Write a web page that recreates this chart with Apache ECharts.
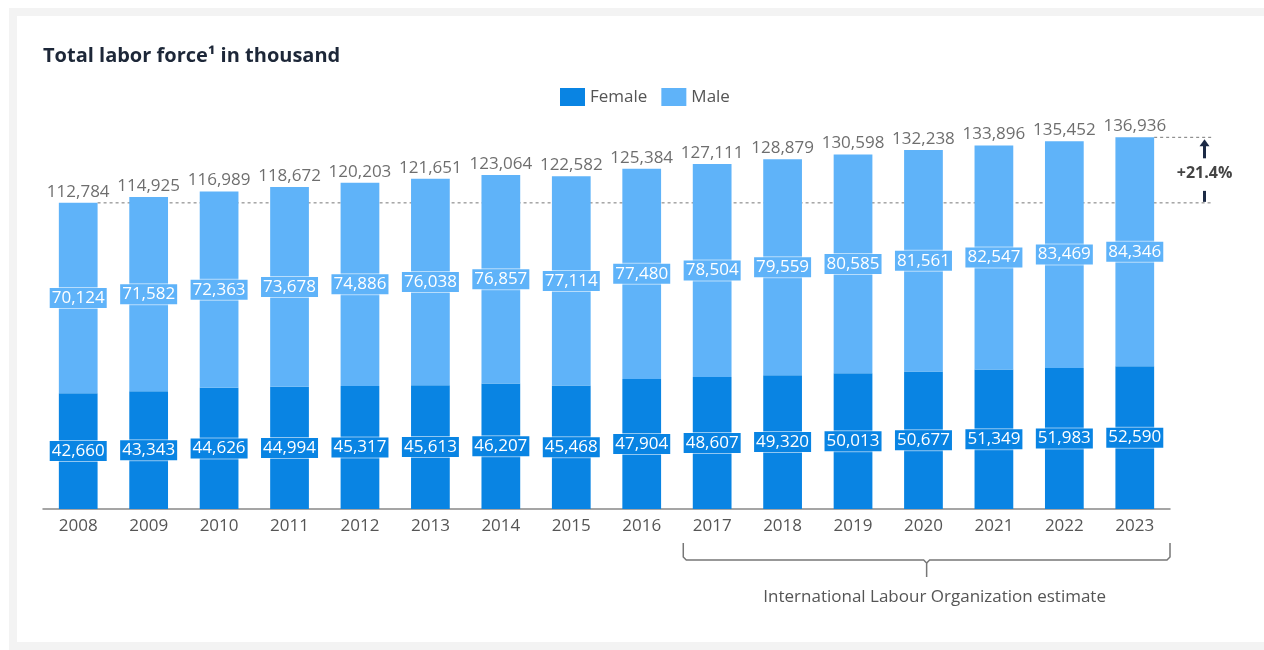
<!DOCTYPE html>
<html>
<head>
<meta charset="utf-8">
<script src="https://cdn.jsdelivr.net/npm/echarts@6/dist/echarts.min.js"></script>
<style>
  html, body { margin: 0; padding: 0; background: #fff; }
  .frame { position: absolute; left: 9px; top: 8px; width: 1400px; height: 642px; border: 8px solid #f3f3f3; box-sizing: border-box; }
  #main { position: absolute; left: 0; top: 0; width: 1264px; height: 650px; }
</style>
</head>
<body>
<div class="frame"></div>
<div id="main"></div>
<script>
  var years = ['2008', '2009', '2010', '2011', '2012', '2013', '2014', '2015', '2016', '2017', '2018', '2019', '2020', '2021', '2022', '2023'];
  var female = [42660, 43343, 44626, 44994, 45317, 45613, 46207, 45468, 47904, 48607, 49320, 50013, 50677, 51349, 51983, 52590];
  var male = [70124, 71582, 72363, 73678, 74886, 76038, 76857, 77114, 77480, 78504, 79559, 80585, 81561, 82547, 83469, 84346];
  var totals = [112784, 114925, 116989, 118672, 120203, 121651, 123064, 122582, 125384, 127111, 128879, 130598, 132238, 133896, 135452, 136936];
  var estimateFrom = '2017';

  var font = '"Open Sans", "Noto Sans", sans-serif';
  var fmt = function (v) { return v.toLocaleString('en-US'); };

  var innerLabel = function (bg) {
    return {
      show: true,
      position: 'inside',
      formatter: function (p) { return fmt(p.value); },
      color: '#fff',
      fontFamily: font,
      fontSize: 17,
      backgroundColor: bg,
      borderColor: 'rgba(255,255,255,0.55)',
      borderWidth: 1,
      padding: [2, 2, 1, 2]
    };
  };

  var myChart = echarts.init(document.getElementById('main'));
  var option = {
    animation: false,
    title: {
      text: 'Total labor force\u00b9 in thousand',
      left: 38,
      top: 41,
      textStyle: { fontFamily: font, fontSize: 20, fontWeight: 'bold', color: '#1d2738' }
    },
    legend: {
      data: ['Female', 'Male'],
      top: 83,
      left: 555,
      icon: 'rect',
      itemWidth: 25,
      itemHeight: 18,
      itemGap: 14,
      textStyle: { fontFamily: font, fontSize: 17, color: '#555' }
    },
    grid: { left: 43, right: 94, top: 129, bottom: 141 },
    xAxis: {
      type: 'category',
      data: years,
      axisLine: { lineStyle: { color: '#888', width: 1.5 } },
      axisTick: { show: false },
      axisLabel: { fontFamily: font, fontSize: 17, color: '#555', margin: 9 }
    },
    yAxis: { type: 'value', min: 0, max: 140000, show: false, splitLine: { show: false } },
    series: [
      {
        name: 'Female',
        type: 'bar',
        stack: 'total',
        barWidth: '55%',
        itemStyle: { color: '#0984e3' },
        label: innerLabel('#0984e3'),
        data: female
      },
      {
        name: 'Male',
        type: 'bar',
        stack: 'total',
        itemStyle: { color: '#5fb3f9' },
        label: innerLabel('#5fb3f9'),
        data: male
      },
      {
        name: 'Total',
        type: 'scatter',
        symbolSize: 1,
        itemStyle: { color: 'rgba(0,0,0,0)' },
        label: {
          show: true,
          position: 'top',
          distance: 2,
          formatter: function (p) { return fmt(p.value); },
          fontFamily: font,
          fontSize: 17,
          color: '#4a4a4a'
        },
        data: totals
      }
    ]
  };
  myChart.setOption(option);

  // annotations placed through the chart's own scales
  var px = function (i, v) { return myChart.convertToPixel({ gridIndex: 0 }, [i, v]); };
  var last = years.length - 1;
  var band = px(1, 0)[0] - px(0, 0)[0];
  var half = band * 0.55 / 2;
  var base = px(0, 0)[1];
  var first = px(0, totals[0]);
  var end = px(last, totals[last]);
  var rightX = end[0] + band * 1.09;
  var ax = end[0] + band * 0.99;
  var growth = '+' + ((totals[last] / totals[0] - 1) * 100).toFixed(1) + '%';

  var bL = px(years.indexOf(estimateFrom), 0)[0] - band * 0.41;
  var bR = end[0] + band * 0.5;
  var bC = (bL + bR) / 2;
  var y1 = base + 34, y2 = base + 51, y3 = base + 68;

  var dash = { stroke: '#777', lineWidth: 1, lineDash: [3, 3] };
  var navy = '#1c2a45';
  var brace = { stroke: '#777', lineWidth: 1.5, fill: null };

  myChart.setOption({
    graphic: [
      { type: 'line', shape: { x1: first[0] + half, y1: first[1], x2: rightX, y2: first[1] }, style: dash, z: 1 },
      { type: 'line', shape: { x1: end[0] + half, y1: end[1], x2: rightX, y2: end[1] }, style: dash, z: 1 },
      { type: 'line', shape: { x1: ax, y1: end[1] + 7, x2: ax, y2: end[1] + 21 }, style: { stroke: navy, lineWidth: 3 } },
      { type: 'polygon', shape: { points: [[ax - 5, end[1] + 9], [ax + 5, end[1] + 9], [ax, end[1] + 2]] }, style: { fill: navy } },
      { type: 'line', shape: { x1: ax, y1: first[1] - 12, x2: ax, y2: first[1] - 1 }, style: { stroke: navy, lineWidth: 3 } },
      {
        type: 'text', x: ax, y: (first[1] + end[1]) / 2 + 3,
        style: { text: growth, fill: '#444', font: 'bold 16px ' + font, textAlign: 'center', textVerticalAlign: 'middle' }
      },
      {
        type: 'polyline',
        shape: { points: [[bL, y1], [bL, y2 - 3], [bL + 3, y2], [bC - 3, y2], [bC, y2 + 3], [bC, y3]] },
        style: brace
      },
      {
        type: 'polyline',
        shape: { points: [[bC, y2 + 3], [bC + 3, y2], [bR - 3, y2], [bR, y2 - 3], [bR, y1]] },
        style: brace
      },
      {
        type: 'text', x: bC + 8, y: base + 88,
        style: { text: 'International Labour Organization estimate', fill: '#555', font: '17px ' + font, textAlign: 'center', textVerticalAlign: 'middle' }
      }
    ]
  });
</script>
</body>
</html>
